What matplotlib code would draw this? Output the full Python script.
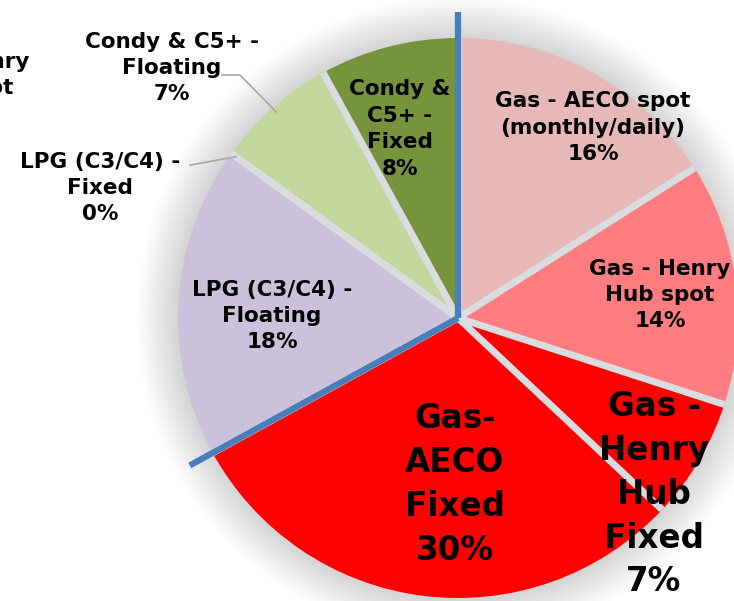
import matplotlib
matplotlib.use('Agg')
import matplotlib.pyplot as plt
import numpy as np
from matplotlib.patches import Circle

# volume split by pricing basis, clockwise from 12 o'clock
labels = ['Gas - AECO spot\n(monthly/daily)', 'Gas - Henry\nHub spot', 'Gas -\nHenry\nHub\nFixed',
          'Gas-\nAECO\nFixed', 'LPG (C3/C4) -\nFloating', 'LPG (C3/C4) -\nFixed',
          'Condy & C5+ -\nFloating', 'Condy &\nC5+ -\nFixed']
shares = [16, 14, 7, 30, 18, 0, 7, 8]
colors = ['#e6b9b8', '#ff7c80', '#ff0000', '#ff0000', '#ccc1da', '#ccc1da', '#c3d69b', '#77933c']

# label placement (pie radius = 1) and font size per slice
label_xy = [(0.482, 0.679), (0.721, 0.082), (0.700, -0.629), (-0.011, -0.596),
            (-0.664, 0.007), (-1.279, 0.464), (-1.021, 0.893), (-0.207, 0.675)]
label_size = [15.5, 15.5, 23.5, 23.5, 15.5, 15.5, 15.5, 15.5]
outside = [5, 6]

# pixel layout: pie centre and radius inside a 734x601 canvas
W, H, CX, CY, R = 734, 601, 458, 318, 280

fig = plt.figure(figsize=(W / 100, H / 100), dpi=100)
ax = fig.add_axes([0, 0, 1, 1])

# soft halo behind the pie
for k in range(22):
    ax.add_patch(Circle((0, 0), 1.0 + 0.007 * k, color='#8c8c8c', alpha=0.014, lw=0, zorder=0))

wedges, _ = ax.pie(shares, colors=colors, startangle=90, counterclock=False,
                   radius=1.0, wedgeprops=dict(linewidth=0))
for w in wedges:
    w.set_zorder(2)

# slice boundaries (degrees, math convention)
cum = np.concatenate([[0], np.cumsum(shares)])
bounds = 90 - 360 * cum / 100.0
for a in bounds[:-1]:
    t = np.radians(a)
    ax.plot([0, np.cos(t)], [0, np.sin(t)], color='#d9dde0', lw=5, solid_capstyle='butt', zorder=3)

# blue dividers between the gas and liquids groups
for a in (bounds[0], bounds[4]):
    t = np.radians(a)
    ax.plot([0, 1.093 * np.cos(t)], [0, 1.093 * np.sin(t)], color='#4a7ebb', lw=4.5,
            solid_capstyle='butt', zorder=5)

for i, (lab, v) in enumerate(zip(labels, shares)):
    x, y = label_xy[i]
    ls = 1.42 if label_size[i] > 20 else 1.4
    ax.text(x, y, f'{lab}\n{v}%', ha='center', va='center', fontsize=label_size[i],
            fontweight='bold', linespacing=ls, zorder=6)

# leader lines for the labels placed outside the pie
mid = 90 - 360 * (cum[:-1] + np.array(shares) / 2) / 100.0
starts = {6: [(-0.843, 0.868), (-0.779, 0.868)], 5: [(-0.957, 0.546)]}
for i in outside:
    t = np.radians(mid[i])
    pts = starts[i] + [(0.98 * np.cos(t), 0.98 * np.sin(t))]
    ax.plot([p[0] for p in pts], [p[1] for p in pts], color='#a6a6a6', lw=1.2, zorder=4)

# edge of the neighbouring chart's label
ax.text((29 - CX) / R, (CY - 52) / R, 'Gas - Henry\nHub spot\n13%', ha='right', va='top',
        multialignment='center', fontsize=15.5, fontweight='bold', linespacing=1.4)

ax.set_xlim(-CX / R, (W - CX) / R)
ax.set_ylim(-(H - CY) / R, CY / R)
ax.set_aspect('equal')
ax.axis('off')

fig.savefig('out.png', dpi=100)
